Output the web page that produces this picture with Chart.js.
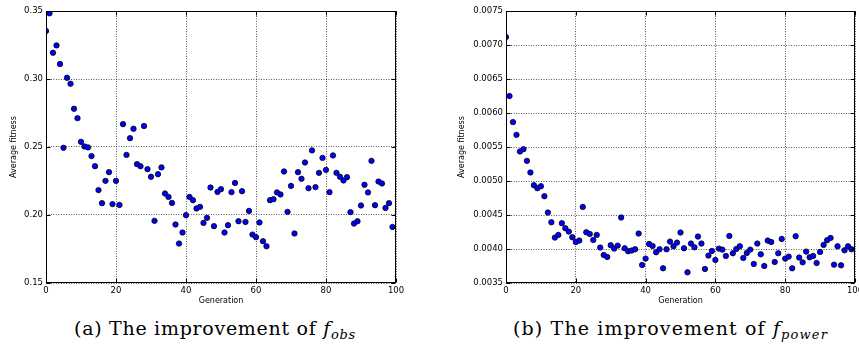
<!DOCTYPE html>
<html>
<head>
<meta charset="utf-8">
<script src="https://cdn.jsdelivr.net/npm/chart.js@4.4.0/dist/chart.umd.min.js"></script>
<style>
body { margin: 0; background: #fff; width: 859px; height: 350px; position: relative; overflow: hidden; }
canvas { position: absolute; top: 0; }
#chartObs { left: 0; }
#chartPower { left: 430px; }
.caption { position: absolute; top: 318px; line-height: 20px; font-family: "DejaVu Serif", serif; font-size: 19px; white-space: nowrap; color: #000; }
.caption sub { font-size: 13px; font-style: italic; vertical-align: -4px; line-height: 0; }
</style>
</head>
<body>
<canvas id="chartObs" width="420" height="310"></canvas>
<canvas id="chartPower" width="429" height="310"></canvas>
<div class="caption" id="capA">(a) The improvement of <i>f</i><sub>obs</sub></div>
<div class="caption" id="capB">(b) The improvement of <i>f</i><sub>power</sub></div>
<script>
var generations = [0,1,2,3,4,5,6,7,8,9,10,11,12,13,14,15,16,17,18,19,20,21,22,23,24,25,26,27,28,29,30,31,32,33,34,35,36,37,38,39,40,41,42,43,44,45,46,47,48,49,50,51,52,53,54,55,56,57,58,59,60,61,62,63,64,65,66,67,68,69,70,71,72,73,74,75,76,77,78,79,80,81,82,83,84,85,86,87,88,89,90,91,92,93,94,95,96,97,98,99];

// average fitness of f_obs per generation
var fitObs = [0.3353,0.3483,0.3193,0.3247,0.3110,0.2494,0.3009,0.2965,0.2781,0.2712,
  0.2538,0.2504,0.2497,0.2433,0.2359,0.2183,0.2087,0.2251,0.2315,0.2080,
  0.2251,0.2074,0.2668,0.2442,0.2565,0.2634,0.2374,0.2359,0.2654,0.2337,
  0.2281,0.1957,0.2300,0.2350,0.2158,0.2133,0.2089,0.1930,0.1790,0.1871,
  0.1999,0.2133,0.2109,0.2048,0.2060,0.1942,0.1979,0.2202,0.1918,0.2170,
  0.2190,0.1871,0.1925,0.2168,0.2236,0.1954,0.2175,0.1949,0.2030,0.1856,
  0.1837,0.1945,0.1807,0.1770,0.2109,0.2116,0.2166,0.2151,0.2320,0.2023,
  0.2214,0.1864,0.2315,0.2266,0.2386,0.2197,0.2475,0.2205,0.2310,0.2420,
  0.2332,0.2168,0.2438,0.2310,0.2281,0.2254,0.2278,0.2021,0.1937,0.1954,
  0.2070,0.2222,0.2166,0.2398,0.2072,0.2246,0.2232,0.2052,0.2087,0.1912];

// average fitness of f_power per generation
var fitPower = [0.007117,0.006249,0.005866,0.005679,0.005434,0.005468,0.005296,0.005125,0.004938,0.004894,
  0.004923,0.004776,0.004536,0.004393,0.004168,0.004207,0.004379,0.004305,0.004256,0.004173,
  0.004103,0.004124,0.004619,0.004246,0.004221,0.004133,0.004207,0.004021,0.003912,0.003883,
  0.004055,0.004006,0.004050,0.004463,0.004011,0.003967,0.003977,0.003996,0.004227,0.003765,
  0.003859,0.004074,0.004044,0.003952,0.003996,0.003716,0.003996,0.004109,0.004040,0.004094,
  0.004242,0.004011,0.003657,0.004080,0.004025,0.004183,0.004080,0.003706,0.003903,0.003971,
  0.003839,0.004006,0.003991,0.003898,0.004192,0.003937,0.004001,0.004040,0.003868,0.003942,
  0.003991,0.003780,0.004080,0.003922,0.003750,0.004124,0.004103,0.003809,0.003937,0.004148,
  0.003859,0.003888,0.003716,0.004187,0.003874,0.003804,0.003962,0.003878,0.003898,0.003794,
  0.003957,0.004060,0.004129,0.004163,0.003770,0.004040,0.003760,0.003981,0.004040,0.003996];

var xTicks = [0, 20, 40, 60, 80, 100];
var obsTicks = [0.15, 0.20, 0.25, 0.30, 0.35];
var powerTicks = [0.0035, 0.0040, 0.0045, 0.0050, 0.0055, 0.0060, 0.0065, 0.0070, 0.0075];

var tickFont = { family: "'DejaVu Sans', sans-serif", size: 8.5 };
var titleFont = { family: "'DejaVu Sans', sans-serif", size: 8 };

// black box round the plot with small inward ticks, like matplotlib
var framePlugin = {
  id: 'frame',
  afterDraw: function(chart) {
    var a = chart.chartArea, ctx = chart.ctx;
    var l = Math.round(a.left) + 0.5, r = Math.round(a.right) - 0.5;
    var t = Math.round(a.top) + 0.5, b = Math.round(a.bottom) - 0.5;
    ctx.save();
    ctx.strokeStyle = '#000';
    ctx.lineWidth = 1;
    ctx.strokeRect(l, t, r - l, b - t);
    ctx.beginPath();
    chart.scales.x.ticks.forEach(function(tk) {
      var px = Math.round(chart.scales.x.getPixelForValue(tk.value)) + 0.5;
      ctx.moveTo(px, b); ctx.lineTo(px, b - 4);
      ctx.moveTo(px, t); ctx.lineTo(px, t + 4);
    });
    chart.scales.y.ticks.forEach(function(tk) {
      var py = Math.round(chart.scales.y.getPixelForValue(tk.value)) + 0.5;
      ctx.moveTo(l, py); ctx.lineTo(l + 4, py);
      ctx.moveTo(r, py); ctx.lineTo(r - 4, py);
    });
    ctx.stroke();
    ctx.restore();
  }
};

function makeChart(id, values, yTicks, decimals, axisWidth, rightPad, yTitlePad) {
  var pts = generations.map(function(g, i) { return { x: g, y: values[i] }; });
  return new Chart(document.getElementById(id), {
    type: 'scatter',
    data: {
      datasets: [{
        data: pts,
        backgroundColor: '#0000ff',
        borderColor: '#000',
        borderWidth: 0.8,
        pointRadius: 2.7,
        pointHoverRadius: 2.7
      }]
    },
    options: {
      responsive: false,
      devicePixelRatio: 1,
      animation: false,
      events: [],
      layout: { padding: { top: 11, right: rightPad, left: 0, bottom: 0 } },
      plugins: { legend: { display: false }, tooltip: { enabled: false } },
      scales: {
        x: {
          type: 'linear',
          min: xTicks[0],
          max: xTicks[xTicks.length - 1],
          afterBuildTicks: function(s) { s.ticks = xTicks.map(function(v) { return { value: v }; }); },
          afterFit: function(s) { s.height = 27; s.paddingLeft = 0; s.paddingRight = 0; },
          ticks: { color: '#000', font: tickFont, padding: 3, maxRotation: 0,
                   callback: function(v) { return String(v); } },
          grid: { color: 'rgba(0,0,0,0.65)', lineWidth: 1, drawTicks: false },
          border: { display: false, dash: [1, 1.5] },
          title: { display: true, text: 'Generation', color: '#000', font: titleFont,
                   padding: { top: 0, bottom: 4.5 } }
        },
        y: {
          type: 'linear',
          min: yTicks[0],
          max: yTicks[yTicks.length - 1],
          afterBuildTicks: function(s) { s.ticks = yTicks.map(function(v) { return { value: v }; }); },
          afterFit: function(s) { s.width = axisWidth; s.paddingTop = 0; s.paddingBottom = 0; },
          ticks: { color: '#000', font: tickFont, padding: 3,
                   callback: function(v) { return Number(v).toFixed(decimals); } },
          grid: { color: 'rgba(0,0,0,0.65)', lineWidth: 1, drawTicks: false },
          border: { display: false, dash: [1, 1.5] },
          title: { display: true, text: 'Average fitness', color: '#000', font: titleFont,
                   padding: { top: yTitlePad, bottom: 0 } }
        }
      }
    },
    plugins: [framePlugin]
  });
}

makeChart('chartObs', fitObs, obsTicks, 2, 46, 24, 9.2);
makeChart('chartPower', fitPower, powerTicks, 4, 76, 4, 27);

// stretch the captions a little so they span like the LaTeX ones
function fitCaption(id, left, right) {
  var el = document.getElementById(id);
  var n = el.textContent.length;
  var w = el.getBoundingClientRect().width;
  el.style.letterSpacing = Math.max(0, (right - left - w) / n) + 'px';
  el.style.left = left + 'px';
}
fitCaption('capA', 74, 356);
fitCaption('capB', 513, 828);
</script>
</body>
</html>
